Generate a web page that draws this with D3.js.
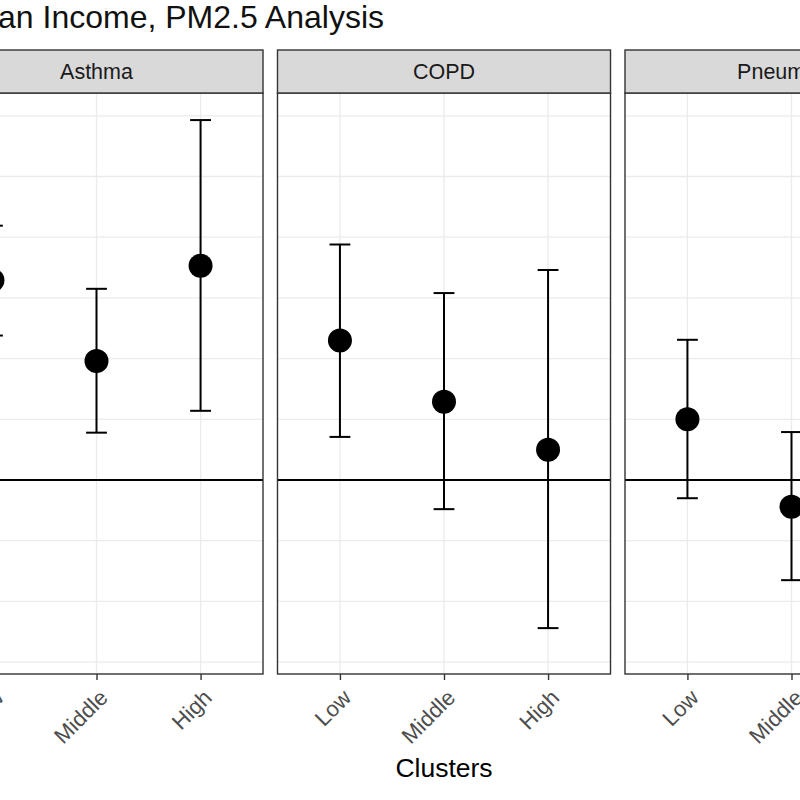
<!DOCTYPE html>
<html>
<head>
<meta charset="utf-8">
<script src="https://cdn.jsdelivr.net/npm/d3@7"></script>
<style>
  html, body { margin: 0; padding: 0; background: #fff; }
  svg { display: block; font-family: "Liberation Sans", Arial, sans-serif; }
</style>
</head>
<body>
<svg id="chart" width="800" height="800"></svg>
<script>
// ---- data ----
const titleText = "Odds Ratios by Median Income, PM2.5 Analysis";
const xTitle = "Clusters";
const facets = ["Asthma", "COPD", "Pneumonia"];
const clusters = ["Low", "Middle", "High"];
const rowFacet   = ["Asthma", "Asthma", "Asthma", "COPD", "COPD", "COPD", "Pneumonia", "Pneumonia", "Pneumonia"];
const rowCluster = ["Low", "Middle", "High", "Low", "Middle", "High", "Low", "Middle", "High"];
const estimates  = [3.29, 1.96, 3.53, 2.30, 1.29, 0.50, 1.00, -0.44, 0.60];
const lowers     = [2.38, 0.78, 1.14, 0.71, -0.48, -2.44, -0.30, -1.65, -0.90];
const uppers     = [4.19, 3.15, 5.93, 3.88, 3.08, 3.46, 2.31, 0.79, 2.10];
const yGridValues = [-3, -2, -1, 0, 1, 2, 3, 4, 5, 6];
const refValue = 0;

const rows = estimates.map((e, i) => ({facet: rowFacet[i], cluster: rowCluster[i], est: e, lo: lowers[i], hi: uppers[i]}));

// ---- layout ----
const svg = d3.select("#chart");
const plotLeft = -70, plotRight = 958;
const stripTop = 50, stripH = 43;
const panelTop = stripTop + stripH, panelBottom = 674;

const fx = d3.scaleBand().domain(facets).range([plotLeft, plotRight]).paddingInner(0.0417);
const pw = fx.bandwidth();
const x = d3.scalePoint().domain(clusters).range([0, pw]).padding(0.6);
const y = d3.scaleLinear().domain([-3.196, 6.376]).range([panelBottom, panelTop]);

// title
svg.append("text")
  .attr("x", 384).attr("y", 28)
  .attr("text-anchor", "end")
  .attr("font-size", 32)
  .attr("fill", "#111")
  .text(titleText);

facets.forEach(f => {
  const g = svg.append("g").attr("transform", `translate(${fx(f)},0)`);
  // panel background
  g.append("rect").attr("x", 0).attr("y", panelTop).attr("width", pw).attr("height", panelBottom - panelTop).attr("fill", "#fff");
  // gridlines
  g.selectAll(".hg").data(yGridValues).join("line")
    .attr("x1", 0).attr("x2", pw)
    .attr("y1", d => y(d)).attr("y2", d => y(d))
    .attr("stroke", "#ebebeb").attr("stroke-width", 1.3);
  g.selectAll(".vg").data(clusters).join("line")
    .attr("x1", d => x(d)).attr("x2", d => x(d))
    .attr("y1", panelTop).attr("y2", panelBottom)
    .attr("stroke", "#ebebeb").attr("stroke-width", 1.3);
  // reference line
  g.append("line").attr("x1", 0).attr("x2", pw)
    .attr("y1", y(refValue)).attr("y2", y(refValue))
    .attr("stroke", "#000").attr("stroke-width", 2);
  const data = rows.filter(r => r.facet === f);
  const capW = x.step() * 0.2;
  // error bars
  data.forEach(d => {
    const cx = x(d.cluster);
    g.append("line").attr("x1", cx).attr("x2", cx).attr("y1", y(d.lo)).attr("y2", y(d.hi)).attr("stroke", "#000").attr("stroke-width", 2);
    g.append("line").attr("x1", cx - capW / 2).attr("x2", cx + capW / 2).attr("y1", y(d.lo)).attr("y2", y(d.lo)).attr("stroke", "#000").attr("stroke-width", 2);
    g.append("line").attr("x1", cx - capW / 2).attr("x2", cx + capW / 2).attr("y1", y(d.hi)).attr("y2", y(d.hi)).attr("stroke", "#000").attr("stroke-width", 2);
  });
  g.selectAll(".pt").data(data).join("circle")
    .attr("cx", d => x(d.cluster)).attr("cy", d => y(d.est)).attr("r", 12).attr("fill", "#000");
  // panel border
  g.append("rect").attr("x", 0).attr("y", panelTop).attr("width", pw).attr("height", panelBottom - panelTop)
    .attr("fill", "none").attr("stroke", "#333").attr("stroke-width", 1.4);
  // strip
  g.append("rect").attr("x", 0).attr("y", stripTop).attr("width", pw).attr("height", stripH)
    .attr("fill", "#d9d9d9").attr("stroke", "#333").attr("stroke-width", 1.4);
  g.append("text").attr("x", pw / 2).attr("y", stripTop + stripH / 2).attr("dy", "0.36em")
    .attr("text-anchor", "middle").attr("font-size", 21.5).attr("fill", "#1a1a1a").text(f);
  // x axis
  const ax = g.append("g").attr("transform", `translate(0,${panelBottom})`)
    .call(d3.axisBottom(x).tickSize(6).tickSizeOuter(0));
  ax.select(".domain").remove();
  ax.selectAll(".tick line").attr("stroke", "#333").attr("stroke-width", 1.4);
  ax.selectAll(".tick text")
    .attr("font-size", 22).attr("fill", "#4d4d4d")
    .attr("font-family", "Liberation Sans, Arial, sans-serif")
    .attr("text-anchor", "end")
    .attr("x", 0).attr("y", 0).attr("dy", "0.71em")
    .attr("transform", "translate(1,14) rotate(-45)");
});

// x axis title
svg.append("text")
  .attr("x", (plotLeft + plotRight) / 2).attr("y", 777)
  .attr("text-anchor", "middle").attr("font-size", 26.5).attr("fill", "#000")
  .text(xTitle);
</script>
</body>
</html>
